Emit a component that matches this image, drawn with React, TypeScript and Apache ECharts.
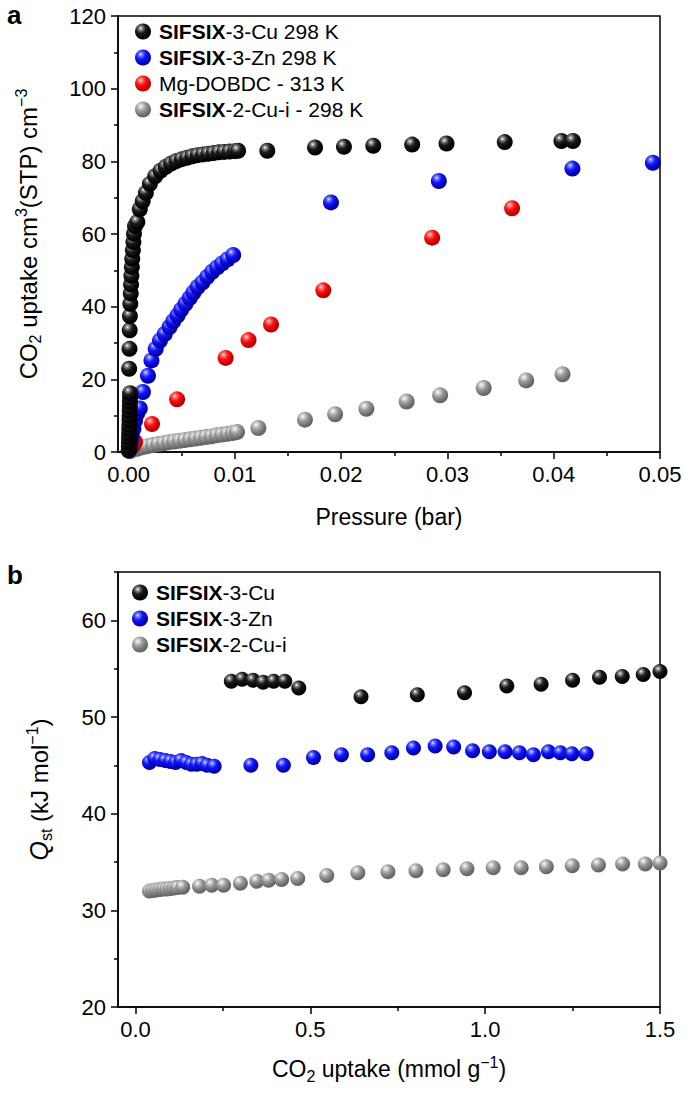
import React, { useEffect, useRef } from "react";
import * as echarts from "echarts";

const FONT = '"Liberation Sans", Arial, Helvetica, sans-serif';

// ---------- Panel a: CO2 isotherms (pressure in bar, uptake cm3(STP) cm-3) ----------
const cu3_298: number[][] = [
  [0.00001, 0.5], [0.00002, 1.6], [0.00003, 2.7], [0.00004, 3.9], [0.00005, 5.1], [0.00006, 6.3],
  [0.00007, 7.5], [0.00008, 8.8], [0.00009, 10.0], [0.0001, 11.3], [0.00011, 12.5], [0.00012, 13.8],
  [0.00013, 15.0], [0.00014, 16.2],
  [0.00005, 22.9], [0.00008, 28.4], [0.0001, 33.5], [0.00012, 37.4], [0.00016, 40.8], [0.0002, 43.6],
  [0.00023, 46.1], [0.00026, 48.5], [0.0003, 50.9], [0.00034, 53.2], [0.0004, 55.5], [0.00045, 57.8],
  [0.0005, 60.1], [0.0006, 62.2], [0.00082, 63.3],
  [0.00105, 66.8], [0.00132, 69.0], [0.00162, 71.3], [0.002, 73.8], [0.0025, 75.9], [0.003, 77.4],
  [0.0035, 78.5], [0.004, 79.4], [0.0045, 80.1], [0.005, 80.6], [0.0055, 81.0], [0.006, 81.4],
  [0.0065, 81.7], [0.007, 81.9], [0.0075, 82.1], [0.008, 82.3], [0.0085, 82.5], [0.009, 82.6],
  [0.0095, 82.7], [0.01, 82.8], [0.0103, 82.9],
  [0.01305, 82.9], [0.01754, 83.8], [0.02026, 84.0], [0.02302, 84.3], [0.02668, 84.6],
  [0.02991, 84.9], [0.03539, 85.3], [0.04072, 85.6], [0.04181, 85.6],
];

const zn3_298: number[][] = [
  [0.00003, 0.4], [0.0001, 1.4], [0.0002, 2.8], [0.0003, 4.4], [0.00045, 6.4], [0.0006, 8.6],
  [0.0008, 10.6], [0.00105, 12.0], [0.00135, 16.5], [0.00182, 21.0], [0.00215, 25.2], [0.00255, 28.4],
  [0.00295, 30.7], [0.0034, 32.5], [0.00385, 34.4], [0.0042, 36.0], [0.0046, 37.6], [0.00495, 39.2],
  [0.00535, 40.8], [0.00575, 42.4], [0.0061, 43.9], [0.0065, 45.4], [0.00696, 46.7], [0.0074, 48.2],
  [0.00786, 49.6], [0.00833, 50.8], [0.0088, 51.9], [0.0093, 53.0], [0.00984, 54.2],
  [0.01904, 68.7], [0.02919, 74.6], [0.04176, 78.0], [0.04933, 79.6],
];

const mgDobdc_313: number[][] = [
  [0.0001, 0.6], [0.0004, 1.6], [0.0006, 2.8], [0.0022, 7.7], [0.00456, 14.5], [0.00913, 25.9],
  [0.01128, 30.8], [0.0134, 35.1], [0.01832, 44.5], [0.02856, 59.0], [0.03608, 67.1],
];

const cu2i_298: number[][] = [
  [0.0001, 0.2], [0.0003, 0.5], [0.0008, 0.9], [0.0013, 1.3], [0.0018, 1.6], [0.0023, 1.9],
  [0.0028, 2.2], [0.0033, 2.4], [0.0038, 2.7], [0.0043, 2.9], [0.0048, 3.1], [0.0053, 3.3],
  [0.0058, 3.5], [0.0063, 3.7], [0.0068, 3.9], [0.0073, 4.1], [0.0078, 4.3], [0.0083, 4.6],
  [0.0088, 4.8], [0.0093, 5.0], [0.0098, 5.2], [0.0102, 5.5],
  [0.01221, 6.6], [0.01659, 8.9], [0.01943, 10.4], [0.02237, 11.9], [0.02616, 13.9],
  [0.02931, 15.6], [0.03341, 17.6], [0.03741, 19.7], [0.04083, 21.4],
];

// ---------- Panel b: isosteric heat (uptake mmol/g, Qst kJ/mol) ----------
const cu3_qst: number[][] = [
  [0.274, 53.7], [0.305, 53.9], [0.336, 53.8], [0.365, 53.6], [0.395, 53.7], [0.427, 53.7],
  [0.467, 53.0], [0.645, 52.1], [0.806, 52.3], [0.941, 52.5], [1.062, 53.2], [1.16, 53.4],
  [1.25, 53.8], [1.327, 54.1], [1.392, 54.2], [1.452, 54.4], [1.5, 54.7],
];

const zn3_qst: number[][] = [
  [0.04, 45.3], [0.055, 45.7], [0.07, 45.6], [0.085, 45.5], [0.1, 45.4], [0.115, 45.3],
  [0.13, 45.5], [0.145, 45.3], [0.16, 45.1], [0.175, 45.1], [0.19, 45.2], [0.205, 45.0],
  [0.225, 44.9], [0.33, 45.0], [0.423, 45.0], [0.509, 45.8], [0.589, 46.1], [0.664, 46.1],
  [0.733, 46.3], [0.795, 46.8], [0.857, 47.0], [0.91, 46.9], [0.964, 46.5], [1.012, 46.4],
  [1.057, 46.4], [1.098, 46.3], [1.138, 46.1], [1.181, 46.4], [1.215, 46.3], [1.248, 46.2],
  [1.289, 46.2],
];

const cu2i_qst: number[][] = [
  [0.04, 32.0], [0.05, 32.05], [0.06, 32.1], [0.07, 32.15], [0.08, 32.2], [0.09, 32.2],
  [0.1, 32.25], [0.11, 32.3], [0.12, 32.35], [0.135, 32.4], [0.183, 32.5], [0.218, 32.6],
  [0.252, 32.6], [0.3, 32.8], [0.347, 33.0], [0.381, 33.1], [0.418, 33.2], [0.464, 33.3],
  [0.547, 33.6], [0.636, 33.9], [0.722, 34.0], [0.802, 34.1], [0.88, 34.2], [0.948, 34.3],
  [1.023, 34.4], [1.103, 34.4], [1.175, 34.5], [1.249, 34.6], [1.324, 34.7], [1.393, 34.8],
  [1.458, 34.8], [1.5, 34.9],
];

// ---------- Axis ticks ----------
const aXMajor = [0, 0.01, 0.02, 0.03, 0.04, 0.05];
const aXMinor = [0.005, 0.015, 0.025, 0.035, 0.045];
const aYMajor = [0, 20, 40, 60, 80, 100, 120];
const aYMinor = [10, 30, 50, 70, 90, 110];
const bXMajor = [0, 0.5, 1.0, 1.5];
const bXMinor = [0.25, 0.75, 1.25];
const bYMajor = [20, 30, 40, 50, 60];
const bYMinor = [25, 35, 45, 55, 65];

const legendA = ["SIFSIX-3-Cu 298 K", "SIFSIX-3-Zn 298 K", "Mg-DOBDC - 313 K", "SIFSIX-2-Cu-i - 298 K"];
const legendB = ["SIFSIX-3-Cu", "SIFSIX-3-Zn", "SIFSIX-2-Cu-i"];

function sphere(stops: string[]) {
  return new echarts.graphic.RadialGradient(0.36, 0.3, 0.62, [
    { offset: 0, color: stops[0] },
    { offset: 0.18, color: stops[1] },
    { offset: 0.5, color: stops[2] },
    { offset: 1, color: stops[3] },
  ]);
}
const BLACK = ["#ffffff", "#8a8a8a", "#1c1c1c", "#000000"];
const BLUE = ["#f0f2ff", "#6f7bff", "#1515ff", "#0000a8"];
const RED = ["#fff0f0", "#ff7a7a", "#ff1010", "#b80000"];
const GRAY = ["#ffffff", "#d6d6d6", "#9a9a9a", "#676767"];

function rich(size: number) {
  const s = Math.round(size * 0.68);
  return {
    t: { fontSize: size, fontFamily: FONT, color: "#000", lineHeight: 30 },
    it: { fontSize: size + 1, fontFamily: FONT, color: "#000", lineHeight: 30, fontStyle: "italic" },
    sub: { fontSize: s, fontFamily: FONT, color: "#000", lineHeight: 13, verticalAlign: "bottom" },
    sup: { fontSize: s, fontFamily: FONT, color: "#000", lineHeight: 13, verticalAlign: "top" },
  };
}

function axisPair(kind: "x" | "y", gridIndex: number, min: number, max: number, major: number[], minor: number[],
  fmt: (v: number) => string, name: string, nameGap: number, nameSize: number) {
  const line = { color: "#000", width: 1.5 };
  const main: any = {
    type: "value", gridIndex, min, max,
    position: kind === "x" ? "bottom" : "left",
    axisLine: { show: true, onZero: false, lineStyle: line },
    axisTick: { show: true, customValues: major, length: 7, lineStyle: line },
    axisLabel: {
      show: true, customValues: major, formatter: fmt, margin: kind === "x" ? 11 : 12,
      fontSize: 22, fontFamily: FONT, color: "#000",
    },
    splitLine: { show: false },
    name, nameLocation: "middle", nameGap, nameRotate: kind === "y" ? 90 : 0,
    nameTextStyle: { rich: rich(nameSize), fontSize: nameSize, fontFamily: FONT, color: "#000" },
  };
  const sub: any = {
    type: "value", gridIndex, min, max,
    position: kind === "x" ? "bottom" : "left",
    axisLine: { show: false, onZero: false },
    axisTick: { show: true, customValues: minor, length: 4, lineStyle: line },
    axisLabel: { show: false },
    splitLine: { show: false },
  };
  return [main, sub];
}

function legendFormatter(name: string) {
  if (name.startsWith("SIFSIX")) {
    return "{g| }{b|SIFSIX}{n|" + name.slice(6) + "}";
  }
  return "{g| }{n|" + name + "}";
}

export default function App() {
  const ref = useRef<HTMLDivElement>(null);
  useEffect(() => {
    if (!ref.current) return;
    const chart = echarts.init(ref.current, undefined, { renderer: "svg" });
    const [ax0, ax1] = axisPair("x", 0, -0.001, 0.05, aXMajor, aXMinor, (v) => v.toFixed(2), "Pressure (bar)", 53, 23);
    const [ay0, ay1] = axisPair("y", 0, 0, 120, aYMajor, aYMinor, (v) => String(Math.round(v)),
      "{t|CO}{sub|2}{t| uptake cm}{sup|3}{t|(STP) cm}{sup|−3}", 75, 24);
    const [bx0, bx1] = axisPair("x", 1, -0.05, 1.5, bXMajor, bXMinor, (v) => v.toFixed(1),
      "{t|CO}{sub|2}{t| uptake (mmol g}{sup|−1}{t|)}", 47, 23);
    const [by0, by1] = axisPair("y", 1, 20, 65, bYMajor, bYMinor, (v) => String(Math.round(v)),
      "{it|Q}{sub|st}{t| (kJ mol}{sup|−1}{t|)}", 64, 24);

    const legendText = {
      fontSize: 21, lineHeight: 16, fontFamily: FONT,
      rich: {
        g: { width: 3, fontSize: 21, lineHeight: 16 },
        b: { fontSize: 21, fontWeight: "bold", fontFamily: FONT, color: "#000", lineHeight: 16 },
        n: { fontSize: 21, fontFamily: FONT, color: "#000", lineHeight: 16 },
      },
    };
    const sc = (name: string, data: number[][], col: string[], xi: number, yi: number, size: number, z: number) => ({
      type: "scatter", name, data, xAxisIndex: xi, yAxisIndex: yi, symbol: "circle", symbolSize: size,
      itemStyle: { color: sphere(col), opacity: 1 }, z, clip: true,
    });

    chart.setOption({
      animation: false,
      backgroundColor: "#fff",
      grid: [
        { left: 118, top: 16, width: 542, height: 436, show: true, borderColor: "#000", borderWidth: 1.5, backgroundColor: "transparent" },
        { left: 118, top: 572, width: 542, height: 435, show: true, borderColor: "#000", borderWidth: 1.5, backgroundColor: "transparent" },
      ],
      xAxis: [ax0, ax1, bx0, bx1],
      yAxis: [ay0, ay1, by0, by1],
      legend: [
        {
          orient: "vertical", left: 135, top: 21, itemWidth: 16, itemHeight: 16, itemGap: 5,
          icon: "circle", data: legendA, formatter: legendFormatter, textStyle: legendText,
          padding: 0, selectedMode: false,
        },
        {
          orient: "vertical", left: 132, top: 582, itemWidth: 16, itemHeight: 16, itemGap: 5,
          icon: "circle", data: legendB, formatter: legendFormatter, textStyle: legendText,
          padding: 0, selectedMode: false,
        },
      ],
      graphic: [
        { type: "text", left: 7, top: 2, style: { text: "a", font: `bold 26px ${FONT}`, fill: "#000" } },
        { type: "text", left: 7, top: 562, style: { text: "b", font: `bold 26px ${FONT}`, fill: "#000" } },
      ],
      series: [
        sc("SIFSIX-2-Cu-i - 298 K", cu2i_298, GRAY, 0, 0, 16, 2),
        sc("Mg-DOBDC - 313 K", mgDobdc_313, RED, 0, 0, 16, 3),
        sc("SIFSIX-3-Zn 298 K", zn3_298, BLUE, 0, 0, 16, 4),
        sc("SIFSIX-3-Cu 298 K", cu3_298, BLACK, 0, 0, 16, 5),
        sc("SIFSIX-2-Cu-i", cu2i_qst, GRAY, 2, 2, 15, 2),
        sc("SIFSIX-3-Zn", zn3_qst, BLUE, 2, 2, 15, 3),
        sc("SIFSIX-3-Cu", cu3_qst, BLACK, 2, 2, 15, 4),
      ],
    });
    return () => chart.dispose();
  }, []);
  return (
    <div style={{ position: "absolute", left: 0, top: 0, width: 685, height: 1095, background: "#fff" }}>
      <div ref={ref} style={{ width: 685, height: 1095 }} />
    </div>
  );
}
